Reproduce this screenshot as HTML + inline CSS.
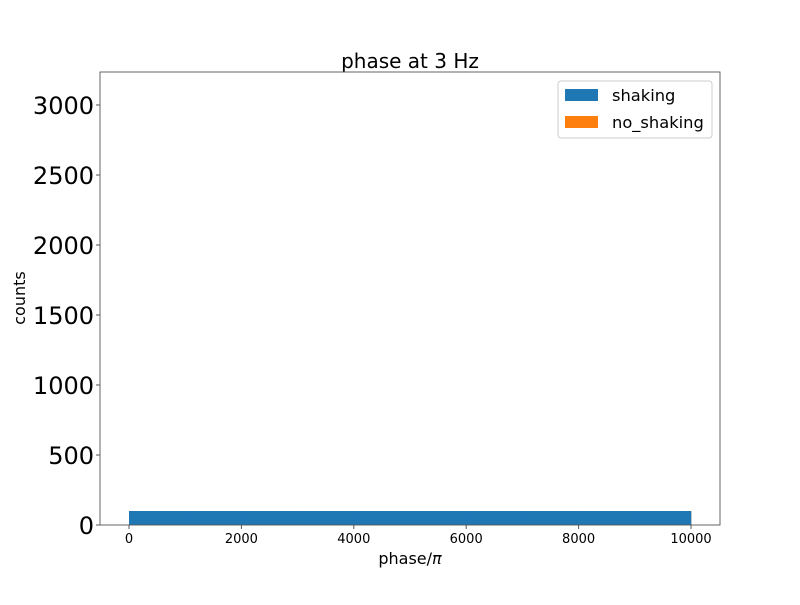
<!DOCTYPE html>
<html><head><meta charset="utf-8"><style>
body{margin:0;background:#fff;}
svg{font-family:"DejaVu Sans","Liberation Sans",sans-serif;}
</style></head><body>
<svg id="chart" width="800" height="600">
<rect width="800" height="600" fill="#fff"/>
<text x="410" y="68" font-size="20" text-anchor="middle">phase at 3 Hz</text>
<g id="marks"></g>
<rect x="100" y="72" width="620" height="453" fill="none" stroke="#555" stroke-width="0.9"/>
<g id="xt"></g><g id="yt"></g>
<text x="410" y="564" font-size="16" text-anchor="middle">phase/<tspan font-style="italic">π</tspan></text>
<text transform="translate(25,298) rotate(-90)" font-size="16" text-anchor="middle">counts</text>
<g>
<rect x="558" y="81" width="154" height="57" rx="3" fill="#fff" stroke="#ccc"/>
<rect x="565" y="89" width="33" height="12" fill="#1f77b4"/>
<text x="612" y="101" font-size="16.3">shaking</text>
<rect x="565" y="116" width="33" height="12" fill="#ff7f0e"/>
<text x="612" y="128" font-size="16.3">no_shaking</text>
</g>
</svg>
<script>
const binEdges=[0,1000,2000,3000,4000,5000,6000,7000,8000,9000,10000];
const shakingCounts=[100,100,100,100,100,100,100,100,100,100];
const noShakingCounts=[100,100,100,100,100,100,100,100,100,100];
const xTicks=[0,2000,4000,6000,8000,10000];
const yTicks=[0,500,1000,1500,2000,2500,3000];
const NS="http://www.w3.org/2000/svg";
const X=v=>129+(v)*0.0562, Y=v=>525-v*0.14;
const marks=document.getElementById('marks');
function bars(counts,color,name){
  counts.forEach((c,i)=>{
    const r=document.createElementNS(NS,'rect');
    r.setAttribute('x',X(binEdges[i]));r.setAttribute('width',X(binEdges[i+1])-X(binEdges[i])+0.3);
    r.setAttribute('y',Y(c));r.setAttribute('height',Y(0)-Y(c));r.setAttribute('fill',color);
    
    
    marks.appendChild(r);
  });
}
bars(noShakingCounts,'#ff7f0e','no-shaking');
bars(shakingCounts,'#1f77b4','shaking');
const xt=document.getElementById('xt');
xTicks.forEach(t=>{
  const l=document.createElementNS(NS,'line');l.setAttribute('x1',X(t));l.setAttribute('x2',X(t));l.setAttribute('y1',525);l.setAttribute('y2',529);l.setAttribute('stroke','#555');
  
  
  xt.appendChild(l);
  const s=document.createElementNS(NS,'text');s.setAttribute('x',X(t));s.setAttribute('y',543);s.setAttribute('font-size','13');s.setAttribute('text-anchor','middle');s.textContent=t;
  
  
  xt.appendChild(s);
});
const yt=document.getElementById('yt');
yTicks.forEach(t=>{
  const l=document.createElementNS(NS,'line');l.setAttribute('x1',96);l.setAttribute('x2',100);l.setAttribute('y1',Y(t));l.setAttribute('y2',Y(t));l.setAttribute('stroke','#555');
  
  
  yt.appendChild(l);
  const s=document.createElementNS(NS,'text');s.setAttribute('x',94);s.setAttribute('y',Y(t)+9);s.setAttribute('font-size','24');s.setAttribute('text-anchor','end');s.textContent=t;
  
  
  yt.appendChild(s);
});
</script>
</body></html>
